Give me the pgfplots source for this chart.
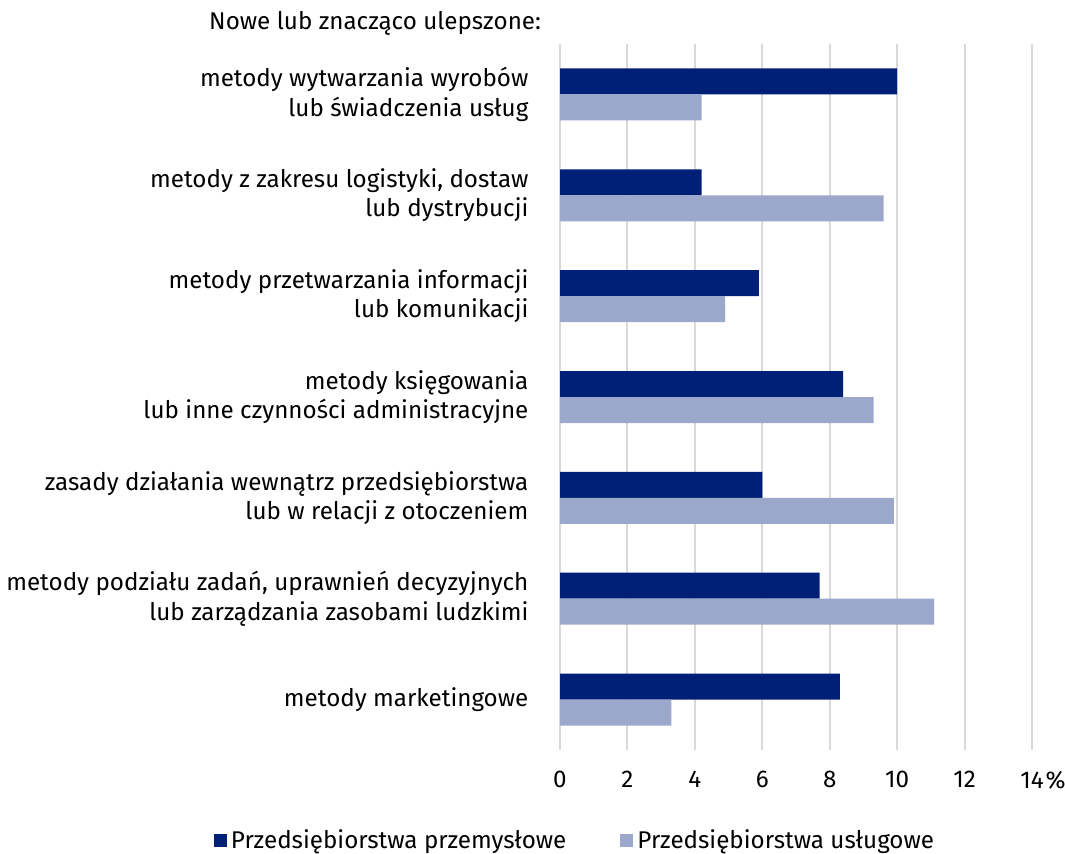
\documentclass[border=0pt]{standalone}
\usepackage{pgfplots}
\pgfplotsset{compat=1.18}
\usepackage{fontspec}
\setmainfont{Fira Sans}
\definecolor{darkc}{HTML}{001F77}
\definecolor{lightc}{HTML}{9CA8CB}
\definecolor{gridc}{HTML}{D9D9D9}
\begin{document}
\begin{tikzpicture}[x=1pt,y=1pt]
\useasboundingbox (0,0) rectangle (532.5,427);
\node[anchor=base east, font=\fontsize{12.1}{14.6}\selectfont] at (274,412) {Nowe lub znacząco ulepszone:};
\begin{axis}[
  at={(280pt,52pt)}, anchor=south west,
  scale only axis, width=236pt, height=353pt,
  xbar, bar width=13pt,
  xmin=0, xmax=14, ymin=-0.5, ymax=6.5, y dir=reverse,
  axis line style={draw=none},
  tick style={draw=none},
  xtick={0,2,...,14},
  xticklabels={0,2,4,6,8,10,12,14\rlap{\kern1pt\%}},
  ytick={0,...,6},
  yticklabels={{metody wytwarzania wyrobów\\lub świadczenia usług},
    {metody z zakresu logistyki, dostaw\\lub dystrybucji},
    {metody przetwarzania informacji\\lub komunikacji},
    {metody księgowania\\lub inne czynności administracyjne},
    {zasady działania wewnątrz przedsiębiorstwa\\lub w relacji z otoczeniem},
    {metody podziału zadań, uprawnień decyzyjnych\\lub zarządzania zasobami ludzkimi},
    {metody marketingowe}},
  yticklabel style={align=right, font=\fontsize{12.1}{14.6}\selectfont, xshift=-8pt},
  xticklabel style={font=\fontsize{12.1}{14.6}\selectfont, yshift=-7pt},
  /pgf/number format/assume math mode=true,
  xmajorgrids, ymajorgrids=false, major grid style={draw=gridc, line width=1pt},
  legend columns=2,
  legend style={draw=none, at={(0.034,-0.128)}, anchor=center, font=\fontsize{12.1}{14.6}\selectfont,
    /tikz/every even column/.append style={column sep=25pt}},
  legend image code/.code={\draw[#1,draw=none] (0pt,-3.2pt) rectangle (6.5pt,3.2pt);},
]
\addplot[fill=darkc, draw=none, bar shift=6.5pt] coordinates {(10.0,0) (4.2,1) (5.9,2) (8.4,3) (6.0,4) (7.7,5) (8.3,6)};
\addplot[fill=lightc, draw=none, bar shift=-6.5pt] coordinates {(4.2,0) (9.6,1) (4.9,2) (9.3,3) (9.9,4) (11.1,5) (3.3,6)};
\legend{Przedsiębiorstwa przemysłowe, Przedsiębiorstwa usługowe}
\end{axis}
\end{tikzpicture}
\end{document}
